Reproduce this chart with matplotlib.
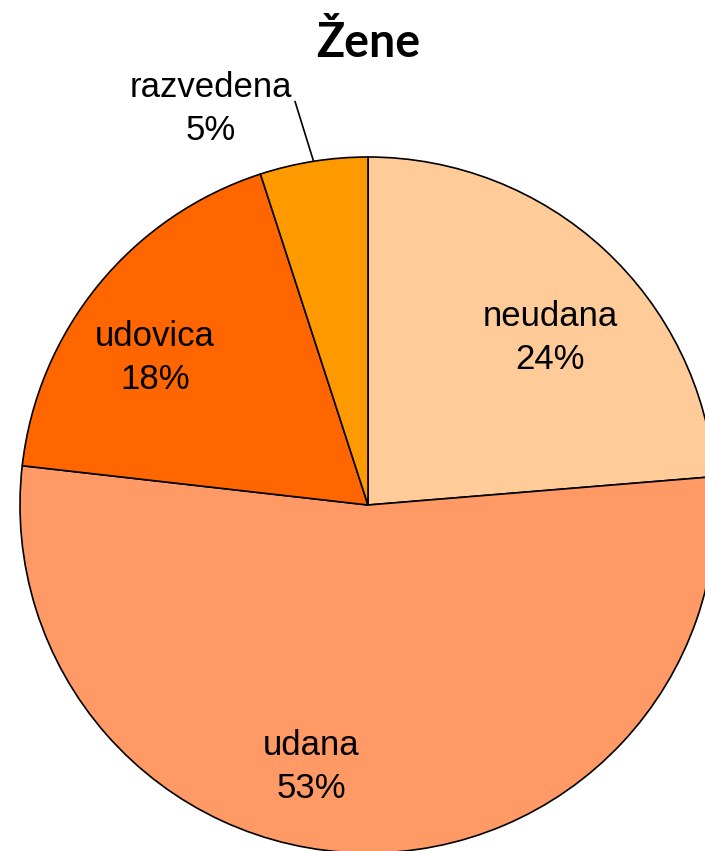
import matplotlib

matplotlib.use("Agg")
import matplotlib.pyplot as plt
import numpy as np

# Ženske po zakonskem stanu (%)
labels = ["neudana", "udana", "udovica", "razvedena"]
values = [23.7, 53.1, 18.2, 5.0]
title = "Žene"

colors = ["#FFCC99", "#FF9966", "#FF6600", "#FF9900"]

W, H = 705, 851
fig = plt.figure(figsize=(W / 100, H / 100), dpi=100)
ax = fig.add_axes([0, 0, 1, 1])

cx, cy, R = 368, 346, 348
wedges, _ = ax.pie(
    values,
    colors=colors,
    startangle=90,
    counterclock=False,
    center=(cx, cy),
    radius=R,
    wedgeprops=dict(edgecolor="black", linewidth=1.2),
    frame=True,
)
ax.set_xlim(0, W)
ax.set_ylim(0, H)
ax.set_aspect("equal")
ax.axis("off")

font = dict(family="Liberation Sans", fontsize=25, ha="center", va="center",
            linespacing=1.35)
text_pos = {
    "neudana": (550, 513),
    "udana": (311, 84),
    "udovica": (155, 493),
}
for lab, val in zip(labels, values):
    if lab in text_pos:
        x, y = text_pos[lab]
        ax.text(x, y, f"{lab}\n{round(val)}%", **font)

# razvedena z vodilno črto
w = wedges[labels.index("razvedena")]
mid = np.deg2rad((w.theta1 + w.theta2) / 2)
edge = (cx + R * np.cos(mid), cy + R * np.sin(mid))
ax.annotate(
    f"razvedena\n{round(values[3])}%",
    xy=edge,
    xytext=(211, 742),
    arrowprops=dict(arrowstyle="-", color="black", lw=1.2,
                    shrinkA=0, shrinkB=0,
                    relpos=(1.0, 0.72)),
    **font,
)

ax.text(368, 794, title, family="Lato", fontweight="bold", fontsize=33.5,
        ha="center", va="baseline")

fig.savefig("out.png", dpi=100)
